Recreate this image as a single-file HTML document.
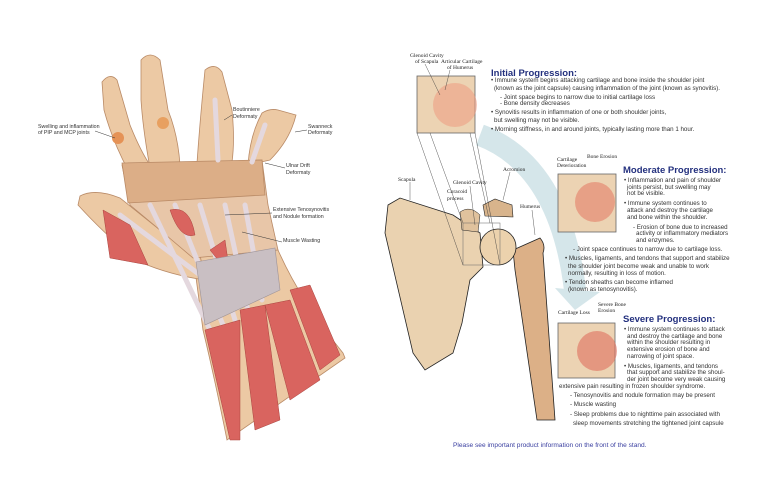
<!DOCTYPE html>
<html><head><meta charset="utf-8"><style>
html,body{margin:0;padding:0;background:#fff;width:762px;height:493px;overflow:hidden}
svg{display:block}
.b{font-family:"Liberation Sans",sans-serif;font-size:6.2px;fill:#333}
.h{font-family:"Liberation Sans",sans-serif;font-size:9.5px;font-weight:bold;fill:#23307e}
.s{font-family:"Liberation Serif",serif;font-size:5.5px;fill:#222}
.l{font-family:"Liberation Sans",sans-serif;font-size:5.3px;fill:#333}
</style></head><body>
<svg width="762" height="493" viewBox="0 0 762 493" xmlns="http://www.w3.org/2000/svg">
<g stroke="#b98a66" stroke-width="0.8">
<path d="M193,255 L278,250 Q300,300 343,353 L345,358 L227,440 Q215,380 203,330 Z" fill="#ecc9a4"/>
<path d="M80,196 Q95,188 120,198 L160,230 L200,255 L205,280 Q170,275 140,262 Q110,240 78,205 Z" fill="#ecc9a4"/>
<path d="M102,82 Q110,72 117,80 L130,125 Q140,150 150,165 L128,170 Q112,140 104,110 Z" fill="#ecc9a4"/>
<path d="M141,60 Q150,50 160,60 L168,110 Q178,135 180,165 L150,168 Q143,130 141,100 Z" fill="#ecc9a4"/>
<path d="M205,70 Q215,62 222,72 L232,110 Q235,140 232,162 L197,163 Q200,120 205,70 Z" fill="#ecc9a4"/>
<path d="M262,113 Q270,108 278,110 L296,115 Q290,140 270,160 L248,165 Q250,135 262,113 Z" fill="#ecc9a4"/>
<path d="M122,165 L262,160 L268,205 L278,250 L193,258 L160,230 L130,205 Z" fill="#e8c6a8"/>
<path d="M122,163 L262,160 L265,195 L128,203 Z" fill="#dcae87"/>
</g>
<g stroke="#e4d8de" stroke-width="5" fill="none" stroke-linecap="round">
<path d="M150,205 L210,330"/><path d="M175,205 L225,330"/><path d="M200,205 L235,320"/><path d="M225,205 L250,320"/><path d="M245,205 L262,300"/>
<path d="M120,215 L200,275"/><path d="M215,100 L218,160"/><path d="M265,125 L252,162"/>
</g>
<g fill="#d9645f" stroke="#a9443f" stroke-width="0.5">
<path d="M103,210 L130,225 L148,265 L110,258 Z"/>
<path d="M170,210 Q190,205 195,235 Q180,240 170,210 Z"/>
<path d="M210,250 L225,240 L230,275 Z"/>
<path d="M205,330 L240,320 L240,440 L230,440 Z"/>
<path d="M240,310 L265,305 L280,420 L255,430 Z"/>
<path d="M265,305 L290,300 L320,380 L290,400 Z"/>
<path d="M290,290 L310,285 L340,355 L320,370 Z"/>
</g>
<path d="M196,262 L275,248 L280,290 L205,325 Z" fill="#c9bfc3" stroke="#9e9397" stroke-width="0.6"/>
<circle cx="118" cy="138" r="6" fill="#e59256"/>
<circle cx="163" cy="123" r="6" fill="#e8a060"/>
<g stroke="#333" stroke-width="0.5">
<line x1="95" y1="131" x2="115" y2="138"/><line x1="232" y1="115" x2="224" y2="120"/>
<line x1="307" y1="130" x2="295" y2="132"/><line x1="285" y1="168" x2="265" y2="163"/>
<line x1="272" y1="213" x2="225" y2="215"/><line x1="282" y1="242" x2="242" y2="232"/>
</g>
<text class="l" x="38" y="128">Swelling and inflammation</text><text class="l" x="38" y="134">of PIP and MCP joints</text>
<text class="l" x="233" y="111">Boutinniere</text><text class="l" x="233" y="118">Deformaty</text>
<text class="l" x="308" y="128">Swanneck</text><text class="l" x="308" y="134">Deformaty</text>
<text class="l" x="286" y="167">Ulnar Drift</text><text class="l" x="286" y="174">Deformaty</text>
<text class="l" x="273" y="211">Extensive Tenosynovitis</text><text class="l" x="273" y="218">and Nodule formation</text>
<text class="l" x="283" y="242">Muscle Wasting</text>

<path d="M480,135 Q560,165 575,290" stroke="#d5e6ea" stroke-width="22" fill="none"/>
<path d="M555,288 L600,292 L575,310 Z" fill="#d5e6ea"/>
<path d="M388,205 L400,198 L453,215 L480,233 L483,267 L470,280 L462,323 L453,353 L425,370 L413,353 L385,233 Z" fill="#ead2b0" stroke="#222" stroke-width="0.8"/>
<path d="M483,205 L495,199 L512,205 L513,217 L485,216 Z" fill="#d8b48c" stroke="#222" stroke-width="0.6"/>
<path d="M460,212 Q470,205 480,215 L478,232 L462,230 Z" fill="#e0c29d" stroke="#222" stroke-width="0.5"/>
<path d="M513,250 L540,238 Q546,245 543,253 L555,420 L537,420 L515,270 Z" fill="#dcb087" stroke="#222" stroke-width="0.8"/>
<circle cx="498" cy="247" r="18" fill="#ecd2ad" stroke="#222" stroke-width="0.8"/>
<rect x="463" y="223" width="37" height="42" fill="none" stroke="#666" stroke-width="0.5"/>
<g stroke="#666" stroke-width="0.8">
<rect x="417" y="76" width="58" height="57" fill="#ecd3b3"/>
<rect x="558" y="174" width="58" height="58" fill="#ecd3b3"/>
<rect x="558" y="323" width="57" height="55" fill="#ecd3b3"/>
</g>
<circle cx="455" cy="105" r="22" fill="#ee9b80" opacity="0.55"/>
<circle cx="595" cy="202" r="20" fill="#e57f68" opacity="0.6"/>
<circle cx="597" cy="351" r="20" fill="#e06f5d" opacity="0.6"/>
<g stroke="#333" stroke-width="0.4" fill="none">
<line x1="417" y1="133" x2="463" y2="265"/><line x1="475" y1="133" x2="500" y2="265"/>
<line x1="430" y1="133" x2="463" y2="223"/><line x1="470" y1="133" x2="490" y2="223"/>
<line x1="425" y1="64" x2="440" y2="95"/><line x1="450" y1="70" x2="445" y2="90"/>
<line x1="410" y1="182" x2="410" y2="200"/><line x1="470" y1="186" x2="475" y2="225"/>
<line x1="510" y1="172" x2="503" y2="200"/><line x1="532" y1="210" x2="535" y2="235"/>
</g>
<text class="s" x="410" y="57">Glenoid Cavity</text><text class="s" x="415" y="63">of Scapula</text>
<text class="s" x="441" y="63">Articular Cartilage</text><text class="s" x="447" y="69">of Humerus</text>
<text class="s" x="503" y="171">Acromion</text><text class="s" x="398" y="181">Scapula</text>
<text class="s" x="453" y="184">Glenoid Cavity</text><text class="s" x="447" y="193">Coracoid</text><text class="s" x="447" y="200">process</text>
<text class="s" x="520" y="208">Humerus</text>
<text class="s" x="557" y="161">Cartilage</text><text class="s" x="557" y="167">Deterioration</text><text class="s" x="587" y="158">Bone Erosion</text>
<text class="s" x="558" y="314">Cartilage Loss</text><text class="s" x="598" y="306">Severe Bone</text><text class="s" x="598" y="312">Erosion</text>

<text class="h" x="491" y="76">Initial Progression:</text>
<text class="b" x="491" y="82">• Immune system begins attacking cartilage and bone inside the shoulder joint</text>
<text class="b" x="494" y="90">(known as the joint capsule) causing inflammation of the joint (known as synovitis).</text>
<text class="b" x="500" y="99">- Joint space begins to narrow due to initial cartilage loss</text>
<text class="b" x="500" y="105">- Bone density decreases</text>
<text class="b" x="491" y="114">• Synovitis results in inflammation of one or both shoulder joints,</text>
<text class="b" x="494" y="122">but swelling may not be visible.</text>
<text class="b" x="491" y="131">• Morning stiffness, in and around joints, typically lasting more than 1 hour.</text>

<text class="h" x="623" y="173">Moderate Progression:</text>
<text class="b" x="624" y="182">• Inflammation and pain of shoulder</text>
<text class="b" x="627" y="189">joints persist, but swelling may</text>
<text class="b" x="627" y="195">not be visible.</text>
<text class="b" x="624" y="205">• Immune system continues to</text>
<text class="b" x="627" y="212">attack and destroy the cartilage</text>
<text class="b" x="627" y="219">and bone within the shoulder.</text>
<text class="b" x="633" y="229">- Erosion of bone due to increased</text>
<text class="b" x="636" y="235">activity or inflammatory mediators</text>
<text class="b" x="636" y="242">and enzymes.</text>
<text class="b" x="573" y="251">- Joint space continues to narrow due to cartilage loss.</text>
<text class="b" x="565" y="260">• Muscles, ligaments, and tendons that support and stabilize</text>
<text class="b" x="568" y="268">the shoulder joint become weak and unable to work</text>
<text class="b" x="568" y="275">normally, resulting in loss of motion.</text>
<text class="b" x="565" y="284">• Tendon sheaths can become inflamed</text>
<text class="b" x="568" y="291">(known as tenosynovitis).</text>

<text class="h" x="623" y="322">Severe Progression:</text>
<text class="b" x="624" y="331">• Immune system continues to attack</text>
<text class="b" x="627" y="338">and destroy the cartilage and bone</text>
<text class="b" x="627" y="344">within the shoulder resulting in</text>
<text class="b" x="627" y="351">extensive erosion of bone and</text>
<text class="b" x="627" y="358">narrowing of joint space.</text>
<text class="b" x="624" y="368">• Muscles, ligaments, and tendons</text>
<text class="b" x="627" y="374">that support and stabilize the shoul-</text>
<text class="b" x="627" y="381">der joint become very weak causing</text>
<text class="b" x="559" y="388">extensive pain resulting in frozen shoulder syndrome.</text>
<text class="b" x="570" y="397">- Tenosynovitis and nodule formation may be present</text>
<text class="b" x="570" y="406">- Muscle wasting</text>
<text class="b" x="570" y="416">- Sleep problems due to nighttime pain associated with</text>
<text class="b" x="573" y="425">sleep movements stretching the tightened joint capsule</text>

<text x="453" y="447" style="font-family:'Liberation Sans',sans-serif;font-size:6.6px;fill:#3a3fa0">Please see important product information on the front of the stand.</text>
</svg>
</body></html>
